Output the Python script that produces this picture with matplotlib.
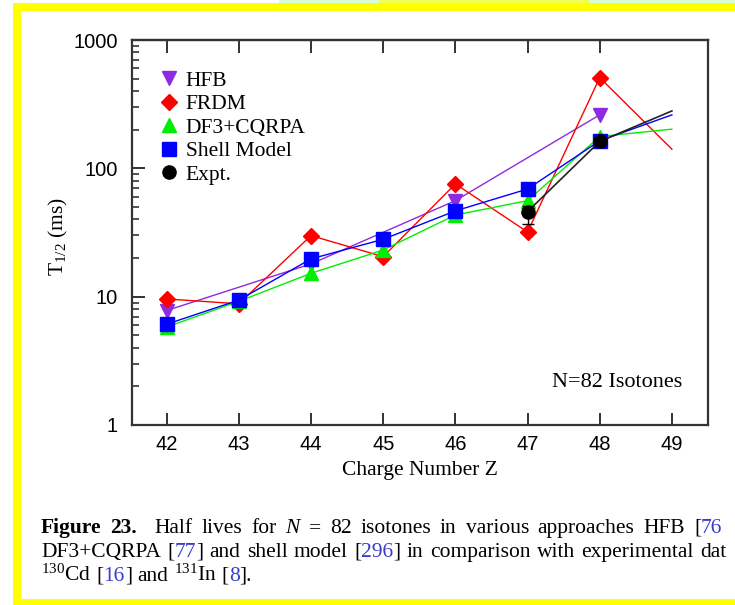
import matplotlib
matplotlib.use("Agg")
import matplotlib.pyplot as plt
from matplotlib.lines import Line2D
from matplotlib.patches import Rectangle
from matplotlib.ticker import FuncFormatter, LogLocator

plt.rcParams['mathtext.fontset'] = 'custom'
plt.rcParams['mathtext.rm'] = 'Liberation Serif'
plt.rcParams['mathtext.it'] = 'Liberation Serif:italic'
plt.rcParams['mathtext.bf'] = 'Liberation Serif:bold'

# half lives (ms) of N=82 isotones
Z = [42, 43, 44, 45, 46, 47, 48, 49]
hfb_z = [42, 44, 46, 48]
hfb = [7.8, 18.0, 56, 261]
frdm = [9.6, 8.8, 29.9, 20.5, 75.6, 31.9, 509, 141]
df3 = [5.8, 9.2, 15.2, 23.1, 43.3, 56, 177, 202]
shell = [6.1, 9.4, 19.7, 28, 46.6, 69, 164, 261]
expt_z = [47, 48, 49]
expt = [46, 162, 280]
expt_err_lo = [9, 0, 0]
expt_err_hi = [5, 0, 0]

W, H = 735, 605
fig = plt.figure(figsize=(W / 100, H / 100), dpi=100)

def rect(x0, y0, x1, y1, c):
    fig.add_artist(Rectangle((x0 / W, 1 - y1 / H), (x1 - x0) / W, (y1 - y0) / H,
                             transform=fig.transFigure, color=c, lw=0, zorder=-5))

# page decorations
rect(279, 0, 379, 3, '#d6ffd6')
rect(379, 0, 589, 3, '#f0ff50')
rect(589, 0, 735, 3, '#d6ffd6')
rect(13, 3, 735, 11, '#ffff00')
rect(13, 3, 21, 605, '#ffff00')
rect(13, 599, 735, 605, '#ffff00')

ax = fig.add_axes([132 / W, 1 - 425 / H, (708 - 132) / W, (425 - 40) / H])

purple = '#8e2be0'
ms = 10
ax.plot(hfb_z, hfb, color=purple, lw=1, marker='v', ms=ms, zorder=2)
ax.plot(Z, frdm, color='#ff0000', lw=1, marker='D', ms=ms - 1.5, markevery=list(range(7)), zorder=3)
ax.plot(Z, df3, color='#00ee00', lw=1, marker='^', ms=ms, markevery=list(range(7)), zorder=4)
ax.plot(Z, shell, color='#0000ff', lw=1, marker='s', ms=ms, markevery=list(range(7)), zorder=5)
ax.plot(expt_z, expt, color='#222222', lw=1.2, zorder=6)
ax.errorbar(expt_z[:2], expt[:2], yerr=[expt_err_lo[:2], expt_err_hi[:2]], fmt='o', color='black',
            ms=ms - 0.5, capsize=4, elinewidth=1, zorder=7)

ax.set_yscale('log')
ax.set_ylim(1, 1000)
ax.set_xlim(41.52, 49.5)
ax.set_xticks(Z)
ax.yaxis.set_major_locator(LogLocator(base=10, numticks=10))
ax.yaxis.set_minor_locator(LogLocator(base=10, subs=range(2, 10), numticks=10))
ax.yaxis.set_major_formatter(FuncFormatter(lambda v, p: f"{v:g}"))
ax.yaxis.set_minor_formatter(FuncFormatter(lambda v, p: ""))
tc = '#222222'
ax.tick_params(axis='x', which='both', direction='in', top=False, bottom=True, length=9, width=1.3,
               color=tc, labelsize=14.5, pad=7)
ax.tick_params(axis='y', which='major', direction='in', left=True, right=False, length=9, width=1.3,
               color=tc, labelsize=14.5, pad=10)
ax.tick_params(axis='y', which='minor', direction='in', left=True, right=False, length=5, width=1.1,
               color=tc)
for lbl in ax.get_xticklabels() + ax.get_yticklabels():
    lbl.set_family('Liberation Sans')
for s in ax.spines.values():
    s.set_linewidth(1.6)
    s.set_color('#333333')

# top ticks stop at 48
top = ax.secondary_xaxis('top')
top.set_xticks(Z[:-1])
top.tick_params(direction='in', length=9, width=1.3, color=tc, labeltop=False)
top.spines['top'].set_linewidth(1.6)
top.spines['top'].set_color('#333333')

serif = 'Liberation Serif'
fs = 15.5
ax.set_xlabel('Charge Number Z', family=serif, fontsize=fs)
ax.xaxis.set_label_coords(0.5, -0.094)
ax.set_ylabel(r'T$_{1/2}$ (ms)', family=serif, fontsize=fs)
ax.yaxis.set_label_coords(-0.108, 0.49)
ax.text(0.955, 0.11, 'N=82 Isotones', transform=ax.transAxes, family=serif, fontsize=16,
        ha='right', va='center')

handles = [
    Line2D([], [], ls='none', marker='v', color=purple, ms=ms, label='HFB'),
    Line2D([], [], ls='none', marker='D', color='#ff0000', ms=ms - 1.5, label='FRDM'),
    Line2D([], [], ls='none', marker='^', color='#00ee00', ms=ms, label='DF3+CQRPA'),
    Line2D([], [], ls='none', marker='s', color='#0000ff', ms=ms, label='Shell Model'),
    Line2D([], [], ls='none', marker='o', color='black', ms=ms - 0.5, label='Expt.'),
]
ax.legend(handles=handles, loc='upper left', bbox_to_anchor=(0.045, 0.92), frameon=False,
          prop={'family': serif, 'size': fs}, handlelength=1.0, handletextpad=0.3,
          labelspacing=0.16, borderaxespad=0, borderpad=0)

# caption, placed word by word (justified look, coloured citation numbers)
renderer = fig.canvas.get_renderer()
link = '#3a3acc'
cfs = 15.5

def width(s, **kw):
    t = fig.text(0, 0, s, family=serif, fontsize=cfs, **kw)
    w = t.get_window_extent(renderer).width
    t.remove()
    return w

space = width('a a') - width('aa')

def line(pieces, x, y, extra=0.0):
    for txt, kw in pieces:
        words = txt.split(' ')
        for i, wd in enumerate(words):
            if i > 0:
                x += space + extra
            if wd:
                t = fig.text(x / W, 1 - y / H, wd, family=serif, fontsize=cfs, va='baseline', **kw)
                x += t.get_window_extent(renderer).width

# the page crops the caption at the right edge; keep only what is visible
k = {'color': 'black'}
b = {'color': link}
line([('Figure 23.', {'color': 'black', 'fontweight': 'bold'}), ('  Half lives for ', k),
      ('N', {'color': 'black', 'style': 'italic'}), (' = 82 isotones in various approaches HFB [', k),
      ('76', b)], 41, 533, extra=3.5)
line([('DF3+CQRPA [', k), ('77', b), ('] and shell model [', k), ('296', b),
      ('] in comparison with experimental dat', k)], 41, 557, extra=1.0)
line([(r'$^{130}$Cd [', k), ('16', b), ('] and ', k), (r'$^{131}$In [', k), ('8', b), ('].', k)], 41, 581)

fig.savefig('out.png', dpi=100)
